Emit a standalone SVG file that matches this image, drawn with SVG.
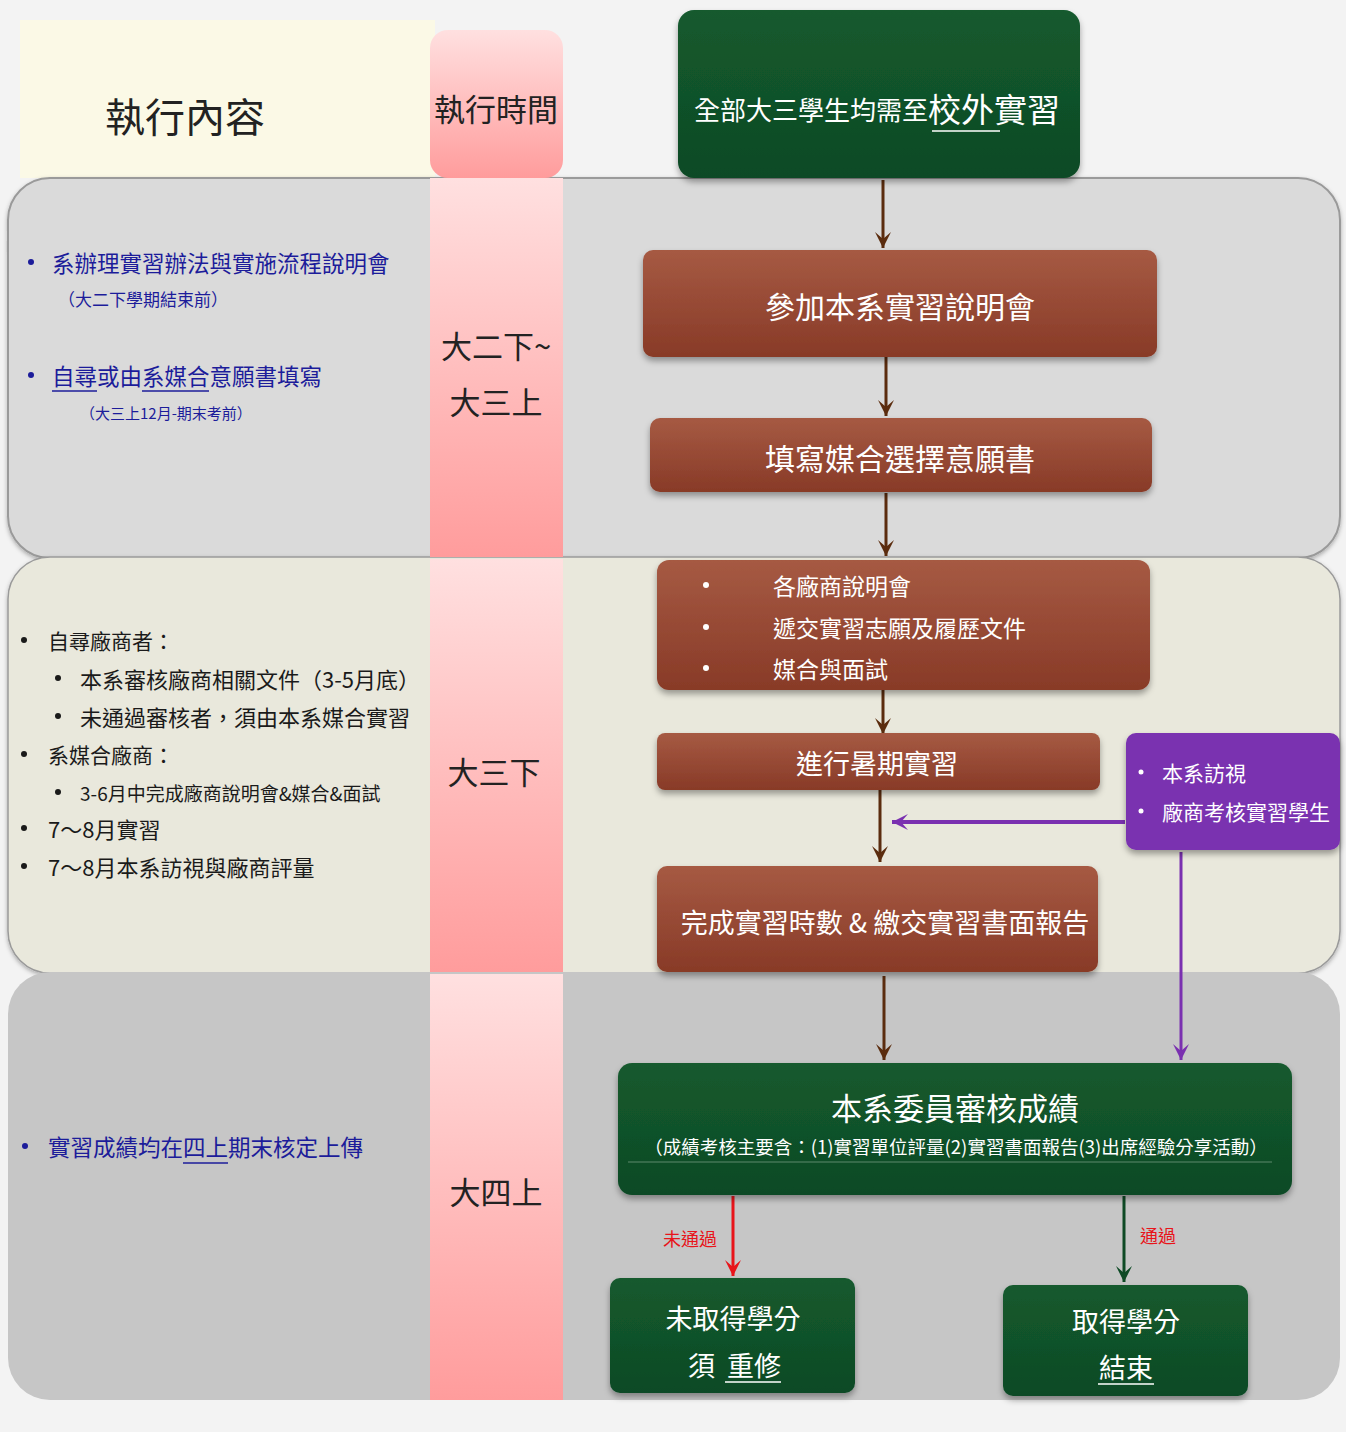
<svg xmlns="http://www.w3.org/2000/svg" width="1346" height="1432" viewBox="0 0 1346 1432">
<defs>
<style>
text{font-family:"Noto Sans CJK TC","Noto Sans CJK SC",sans-serif;dominant-baseline:central}
.w{fill:#ffffff}
.blue{fill:#1c1c9a}
.blk{fill:#1a1a1a}
.hdr{fill:#222222}
.conn{fill:none;stroke-width:3}
</style>
<linearGradient id="pink" x1="0" y1="0" x2="0" y2="1"><stop offset="0" stop-color="#ffe0e0"/><stop offset="1" stop-color="#ff9c9c"/></linearGradient>
<linearGradient id="brown" x1="0" y1="0" x2="0" y2="1"><stop offset="0" stop-color="#a65a43"/><stop offset="1" stop-color="#883a27"/></linearGradient>
<linearGradient id="green" x1="0" y1="0" x2="0" y2="1"><stop offset="0" stop-color="#145a2e"/><stop offset="1" stop-color="#0e4a25"/></linearGradient>
<filter id="sh" x="-10%" y="-20%" width="120%" height="150%"><feDropShadow dx="0" dy="4" stdDeviation="3" flood-color="#000" flood-opacity="0.35"/></filter>
<filter id="bs" x="-5%" y="-5%" width="110%" height="115%"><feDropShadow dx="0" dy="2" stdDeviation="2" flood-color="#000" flood-opacity="0.3"/></filter>
<marker id="ab" markerWidth="20" markerHeight="20" refX="18" refY="9" orient="auto" markerUnits="userSpaceOnUse" viewBox="0 0 20 20"><path d="M2,1 L18,9 L2,17 L9,9 Z" fill="#5b2c0e"/></marker>
<marker id="ap" markerWidth="20" markerHeight="20" refX="18" refY="9" orient="auto" markerUnits="userSpaceOnUse" viewBox="0 0 20 20"><path d="M2,1 L18,9 L2,17 L9,9 Z" fill="#7a30b0"/></marker>
<marker id="ar" markerWidth="20" markerHeight="20" refX="18" refY="9" orient="auto" markerUnits="userSpaceOnUse" viewBox="0 0 20 20"><path d="M2,1 L18,9 L2,17 L9,9 Z" fill="#e8141a"/></marker>
<marker id="ag" markerWidth="20" markerHeight="20" refX="18" refY="9" orient="auto" markerUnits="userSpaceOnUse" viewBox="0 0 20 20"><path d="M2,1 L18,9 L2,17 L9,9 Z" fill="#0e4a25"/></marker>
</defs>
<rect width="1346" height="1432" fill="#f3f3f3"/>
<g id="bands">
<rect x="20" y="20" width="415" height="158" fill="#fbf9e6"/>
<rect x="8" y="178" width="1332" height="380" rx="42" fill="#dadada" stroke="#9a9a9a" stroke-width="2" filter="url(#bs)"/>
<rect x="8" y="557" width="1332" height="416" rx="42" fill="#e9e8dc" stroke="#9a9a9a" stroke-width="1.5" filter="url(#bs)"/>
<rect x="8" y="972" width="1332" height="428" rx="42" fill="#c6c6c6"/>
</g>
<g id="timecol">
<rect x="430" y="30" width="133" height="148" rx="18" fill="url(#pink)"/>
<rect x="430" y="178" width="133" height="379" fill="url(#pink)"/>
<rect x="430" y="559" width="133" height="413" fill="url(#pink)"/>
<rect x="430" y="974" width="133" height="426" fill="url(#pink)"/>
<text x="496" y="107" class="hdr" font-size="31" text-anchor="middle">執行時間</text>
<text x="496" y="344" class="hdr" font-size="31" text-anchor="middle">大二下~</text>
<text x="496" y="400" class="hdr" font-size="31" text-anchor="middle">大三上</text>
<text x="494" y="770" class="hdr" font-size="31" text-anchor="middle">大三下</text>
<text x="496" y="1190" class="hdr" font-size="31" text-anchor="middle">大四上</text>
</g>
<g id="content">
<text x="185" y="115" class="hdr" font-size="40" text-anchor="middle">執行內容</text>
<circle cx="31" cy="262" r="3" fill="#1c1c9a"/>
<text x="52" y="262" class="blue" font-size="22.5">系辦理實習辦法與實施流程說明會</text>
<text x="58" y="298" class="blue" font-size="17">（大二下學期結束前）</text>
<circle cx="31" cy="375" r="3" fill="#1c1c9a"/>
<text x="52" y="375" class="blue" font-size="22.5">自尋或由系媒合意願書填寫</text>
<line x1="52" y1="391" x2="97" y2="391" stroke="#1c1c9a" stroke-width="1.5"/>
<line x1="142" y1="391" x2="209" y2="391" stroke="#1c1c9a" stroke-width="1.5"/>
<text x="80" y="412" class="blue" font-size="15">（大三上12月-期末考前）</text>
<circle cx="24" cy="640" r="3" fill="#1a1a1a"/>
<text x="48" y="640" class="blk" font-size="21">自尋廠商者：</text>
<circle cx="58" cy="678" r="3" fill="#1a1a1a"/>
<text x="80" y="678" class="blk" font-size="22">本系審核廠商相關文件（3-5月底）</text>
<circle cx="58" cy="716" r="3" fill="#1a1a1a"/>
<text x="80" y="716" class="blk" font-size="22">未通過審核者，須由本系媒合實習</text>
<circle cx="24" cy="754" r="3" fill="#1a1a1a"/>
<text x="48" y="754" class="blk" font-size="21">系媒合廠商：</text>
<circle cx="58" cy="792" r="3" fill="#1a1a1a"/>
<text x="80" y="792" class="blk" font-size="19">3-6月中完成廠商說明會&amp;媒合&amp;面試</text>
<circle cx="24" cy="828" r="3" fill="#1a1a1a"/>
<text x="48" y="828" class="blk" font-size="22">7～8月實習</text>
<circle cx="24" cy="866" r="3" fill="#1a1a1a"/>
<text x="48" y="866" class="blk" font-size="22">7～8月本系訪視與廠商評量</text>
<circle cx="25" cy="1146" r="3" fill="#1c1c9a"/>
<text x="48" y="1146" class="blue" font-size="22.5">實習成績均在四上期末核定上傳</text>
<line x1="183" y1="1163" x2="228" y2="1163" stroke="#1c1c9a" stroke-width="1.5"/>
</g>
<g id="connectors">
<line x1="883" y1="180" x2="883" y2="248" class="conn" stroke="#5b2c0e" marker-end="url(#ab)"/>
<line x1="886" y1="357" x2="886" y2="416" class="conn" stroke="#5b2c0e" marker-end="url(#ab)"/>
<line x1="886" y1="493" x2="886" y2="556" class="conn" stroke="#5b2c0e" marker-end="url(#ab)"/>
<line x1="883" y1="690" x2="883" y2="734" class="conn" stroke="#5b2c0e" marker-end="url(#ab)"/>
<line x1="880" y1="790" x2="880" y2="862" class="conn" stroke="#5b2c0e" marker-end="url(#ab)"/>
<line x1="884" y1="976" x2="884" y2="1060" class="conn" stroke="#5b2c0e" marker-end="url(#ab)"/>
<line x1="1125" y1="822" x2="892" y2="822" fill="none" stroke="#7a30b0" stroke-width="4" marker-end="url(#ap)"/>
<line x1="1181" y1="852" x2="1181" y2="1060" fill="none" stroke="#7a30b0" stroke-width="3" marker-end="url(#ap)"/>
<line x1="733" y1="1196" x2="733" y2="1276" fill="none" stroke="#e8141a" stroke-width="3" marker-end="url(#ar)"/>
<line x1="1124" y1="1196" x2="1124" y2="1282" fill="none" stroke="#0e4a25" stroke-width="3" marker-end="url(#ag)"/>
<text x="690" y="1238" fill="#e8141a" font-size="18" text-anchor="middle">未通過</text>
<text x="1158" y="1235" fill="#e8141a" font-size="18" text-anchor="middle">通過</text>
</g>
<g id="n_start">
<rect x="678" y="10" width="402" height="168" rx="16" fill="url(#green)" filter="url(#sh)"/>
<text x="694" y="108" class="w" font-size="26">全部大三學生均需至<tspan font-size="33">校外實習</tspan></text>
<line x1="932" y1="131" x2="1000" y2="131" stroke="#ffffff" stroke-width="1.5"/>
</g>
<g id="n_briefing">
<rect x="643" y="250" width="514" height="107" rx="10" fill="url(#brown)" filter="url(#sh)"/>
<text x="900" y="305" class="w" font-size="30" text-anchor="middle">參加本系實習說明會</text>
</g>
<g id="n_wish">
<rect x="650" y="418" width="502" height="74" rx="10" fill="url(#brown)" filter="url(#sh)"/>
<text x="900" y="457" class="w" font-size="30" text-anchor="middle">填寫媒合選擇意願書</text>
</g>
<g id="n_match">
<rect x="657" y="560" width="493" height="130" rx="12" fill="url(#brown)" filter="url(#sh)"/>
<circle cx="706" cy="585" r="3" fill="#fff"/>
<text x="773" y="585" class="w" font-size="23">各廠商說明會</text>
<circle cx="706" cy="627" r="3" fill="#fff"/>
<text x="773" y="627" class="w" font-size="23">遞交實習志願及履歷文件</text>
<circle cx="706" cy="668" r="3" fill="#fff"/>
<text x="773" y="668" class="w" font-size="23">媒合與面試</text>
</g>
<g id="n_summer">
<rect x="657" y="733" width="443" height="57" rx="8" fill="url(#brown)" filter="url(#sh)"/>
<text x="877" y="762" class="w" font-size="27" text-anchor="middle">進行暑期實習</text>
</g>
<g id="n_report">
<rect x="657" y="866" width="441" height="106" rx="10" fill="url(#brown)" filter="url(#sh)"/>
<text x="885" y="921" class="w" font-size="27" text-anchor="middle">完成實習時數 &amp; 繳交實習書面報告</text>
</g>
<g id="n_visit">
<rect x="1126" y="733" width="214" height="117" rx="10" fill="#7a30b0" filter="url(#sh)"/>
<circle cx="1141" cy="772" r="2.5" fill="#fff"/>
<text x="1162" y="772" class="w" font-size="21">本系訪視</text>
<circle cx="1141" cy="811" r="2.5" fill="#fff"/>
<text x="1162" y="811" class="w" font-size="21">廠商考核實習學生</text>
</g>
<g id="n_review">
<rect x="618" y="1063" width="674" height="132" rx="14" fill="url(#green)" filter="url(#sh)"/>
<text x="955" y="1106" class="w" font-size="31" text-anchor="middle">本系委員審核成績</text>
<text x="956" y="1146" class="w" font-size="18.5" text-anchor="middle">（成績考核主要含：(1)實習單位評量(2)實習書面報告(3)出席經驗分享活動）</text>
<line x1="628" y1="1162" x2="1272" y2="1162" stroke="#5e8a6c" stroke-width="1"/>
</g>
<g id="n_fail">
<rect x="610" y="1278" width="245" height="115" rx="10" fill="url(#green)" filter="url(#sh)"/>
<text x="733" y="1317" class="w" font-size="27" text-anchor="middle">未取得學分</text>
<text x="688" y="1364" class="w" font-size="27">須</text>
<text x="727" y="1364" class="w" font-size="27">重修</text>
<line x1="725" y1="1382" x2="781" y2="1382" stroke="#fff" stroke-width="1.5"/>
</g>
<g id="n_pass">
<rect x="1003" y="1285" width="245" height="111" rx="10" fill="url(#green)" filter="url(#sh)"/>
<text x="1126" y="1320" class="w" font-size="27" text-anchor="middle">取得學分</text>
<text x="1126" y="1366" class="w" font-size="27" text-anchor="middle">結束</text>
<line x1="1098" y1="1384" x2="1154" y2="1384" stroke="#fff" stroke-width="1.5"/>
</g>
</svg>
